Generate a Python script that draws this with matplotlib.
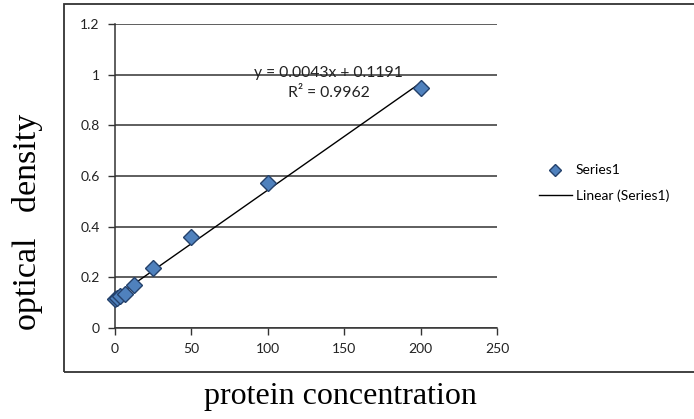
import matplotlib
matplotlib.use("Agg")
import matplotlib.pyplot as plt
from matplotlib.patches import Rectangle
import numpy as np

# Data
concentration = [0, 1.5625, 3.125, 6.25, 12.5, 25, 50, 100, 200]
optical_density = [0.113, 0.120, 0.126, 0.134, 0.170, 0.236, 0.360, 0.574, 0.946]
equation_label = "y = 0.0043x + 0.1191"
r2_label = "R² = 0.9962"
x_ticks = [0, 50, 100, 150, 200, 250]
y_ticks = [0, 0.2, 0.4, 0.6, 0.8, 1.0, 1.2]
y_tick_labels = ["0", "0.2", "0.4", "0.6", "0.8", "1", "1.2"]

W, H = 694, 419
fig = plt.figure(figsize=(W / 100, H / 100), dpi=100)
fig.patch.set_facecolor("white")

# outer chart border
fig.patches.append(Rectangle((64 / W, (H - 372) / H), 1.2, (372 - 4) / H,
                             transform=fig.transFigure, fill=False,
                             edgecolor="#333333", linewidth=1.3, zorder=0))

ax = fig.add_axes([115 / W, (H - 328) / H, (497 - 115) / W, (328 - 24) / H])
tick_font = "Lato"

ax.set_xlim(0, 250)
ax.set_ylim(0, 1.2)
ax.set_xticks(x_ticks)
ax.set_yticks(y_ticks)
ax.set_yticklabels(y_tick_labels)
for lab in ax.get_xticklabels() + ax.get_yticklabels():
    lab.set_fontfamily(tick_font)
    lab.set_fontsize(10)
    lab.set_color("#222222")
ax.tick_params(direction="out", length=5, width=1, color="#333333", pad=6)

for s in ["top", "right"]:
    ax.spines[s].set_visible(False)
for s in ["left", "bottom"]:
    ax.spines[s].set_color("#333333")
    ax.spines[s].set_linewidth(1.1)

ax.yaxis.grid(True, color="#333333", linewidth=1.1)
ax.set_axisbelow(True)

# linear trendline (least squares fit of the series)
slope, intercept = np.polyfit(concentration, optical_density, 1)
xt = np.array([min(concentration), max(concentration)])
yt = slope * xt + intercept
ax.plot(xt, yt, color="black", linewidth=1, label="Linear (Series1)", zorder=3)

ax.plot(concentration, optical_density, linestyle="none", marker="D",
        markersize=8.5, markerfacecolor="#4F81BD", markeredgecolor="#24416B",
        markeredgewidth=1, label="Series1", zorder=4, clip_on=False)

ax.text(0.56, 0.839, equation_label, transform=ax.transAxes,
        ha="center", va="center", fontsize=11.3, family=tick_font, color="#222222")
ax.text(0.56, 0.773, r2_label, transform=ax.transAxes,
        ha="center", va="center", fontsize=11.3, family=tick_font, color="#222222")

handles, labels = ax.get_legend_handles_labels()
leg = fig.legend(handles[::-1], labels[::-1], loc="center left",
                 bbox_to_anchor=(526 / W, (H - 183) / H), frameon=False,
                 prop={"family": tick_font, "size": 10}, handlelength=2.4,
                 labelspacing=0.9, handletextpad=0.3, markerscale=0.75)

fig.text(340.5 / W, (H - 396) / H, "protein concentration", ha="center", va="center",
         family="Liberation Serif", fontsize=23)
fig.text(28 / W, (H - 222) / H, "optical   density", ha="center", va="center",
         rotation=90, family="Liberation Serif", fontsize=24.5)

fig.savefig("out.png", dpi=100)
